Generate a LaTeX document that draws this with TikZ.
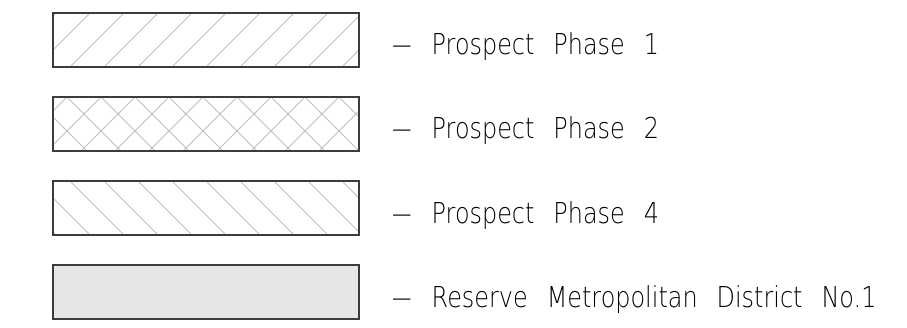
\documentclass[tikz,border=0pt]{standalone}
\usepackage{fontspec}
\newfontfamily\cadfont{DejaVu Sans ExtraLight}[FakeStretch=0.83]
\usetikzlibrary{calc,chains,positioning}

\definecolor{hatchgray}{RGB}{190,190,190}
\definecolor{edgegray}{RGB}{60,60,60}
\definecolor{reservefill}{RGB}{230,230,230}

\tikzset{
  legbox/.style={draw=edgegray,line width=1.4pt,minimum width=306pt,minimum height=54pt,inner sep=0pt,outer sep=0pt},
  hatchline/.style={draw=hatchgray,line width=0.9pt},
  hatchne/.style={path picture={
    \foreach \k in {-2,...,9}
      \draw[hatchline] ([xshift={\k*34pt+17pt}]path picture bounding box.south west) -- ++(60pt,60pt);}},
  hatchnw/.style={path picture={
    \foreach \k in {-2,...,9}
      \draw[hatchline] ([xshift={\k*34pt+17pt}]path picture bounding box.north west) -- ++(60pt,-60pt);}},
  hatchx/.style={path picture={
    \foreach \k in {-2,...,9} {
      \draw[hatchline] ([xshift={\k*34pt+14pt}]path picture bounding box.north west) -- ++(60pt,-60pt);
      \draw[hatchline] ([xshift={\k*34pt+14pt}]path picture bounding box.north west) -- ++(-60pt,-60pt);}}},
  legtext/.style={font=\cadfont\fontsize{28.8}{29}\selectfont,inner sep=0pt,anchor=base west,
    execute at begin node={\spaceskip=19pt\relax}}
}

\begin{document}
\begin{tikzpicture}[x=1pt,y=1pt]
\useasboundingbox (0,0) rectangle (907,327);

\begin{scope}[start chain=going below,node distance=30pt]
\node [on chain,legbox,hatchne] (b1) at (206,287) {};
\node [on chain,legbox,hatchx] (b2) {};
\node [on chain,legbox,hatchnw] (b3) {};
\node [on chain,legbox,fill=reservefill] (b4) {};
\end{scope}

\def\legitems{1/{Prospect Phase 1},2/{Prospect Phase 2},3/{Prospect Phase 4},4/{Reserve Metropolitan District No.1}}
\foreach \i / \element in \legitems
  \node [legtext] (t\i) at ([xshift=32pt,yshift=-15pt]b\i.east) {\scalebox{1.8}[1]{–} \element};

\end{tikzpicture}
\end{document}
